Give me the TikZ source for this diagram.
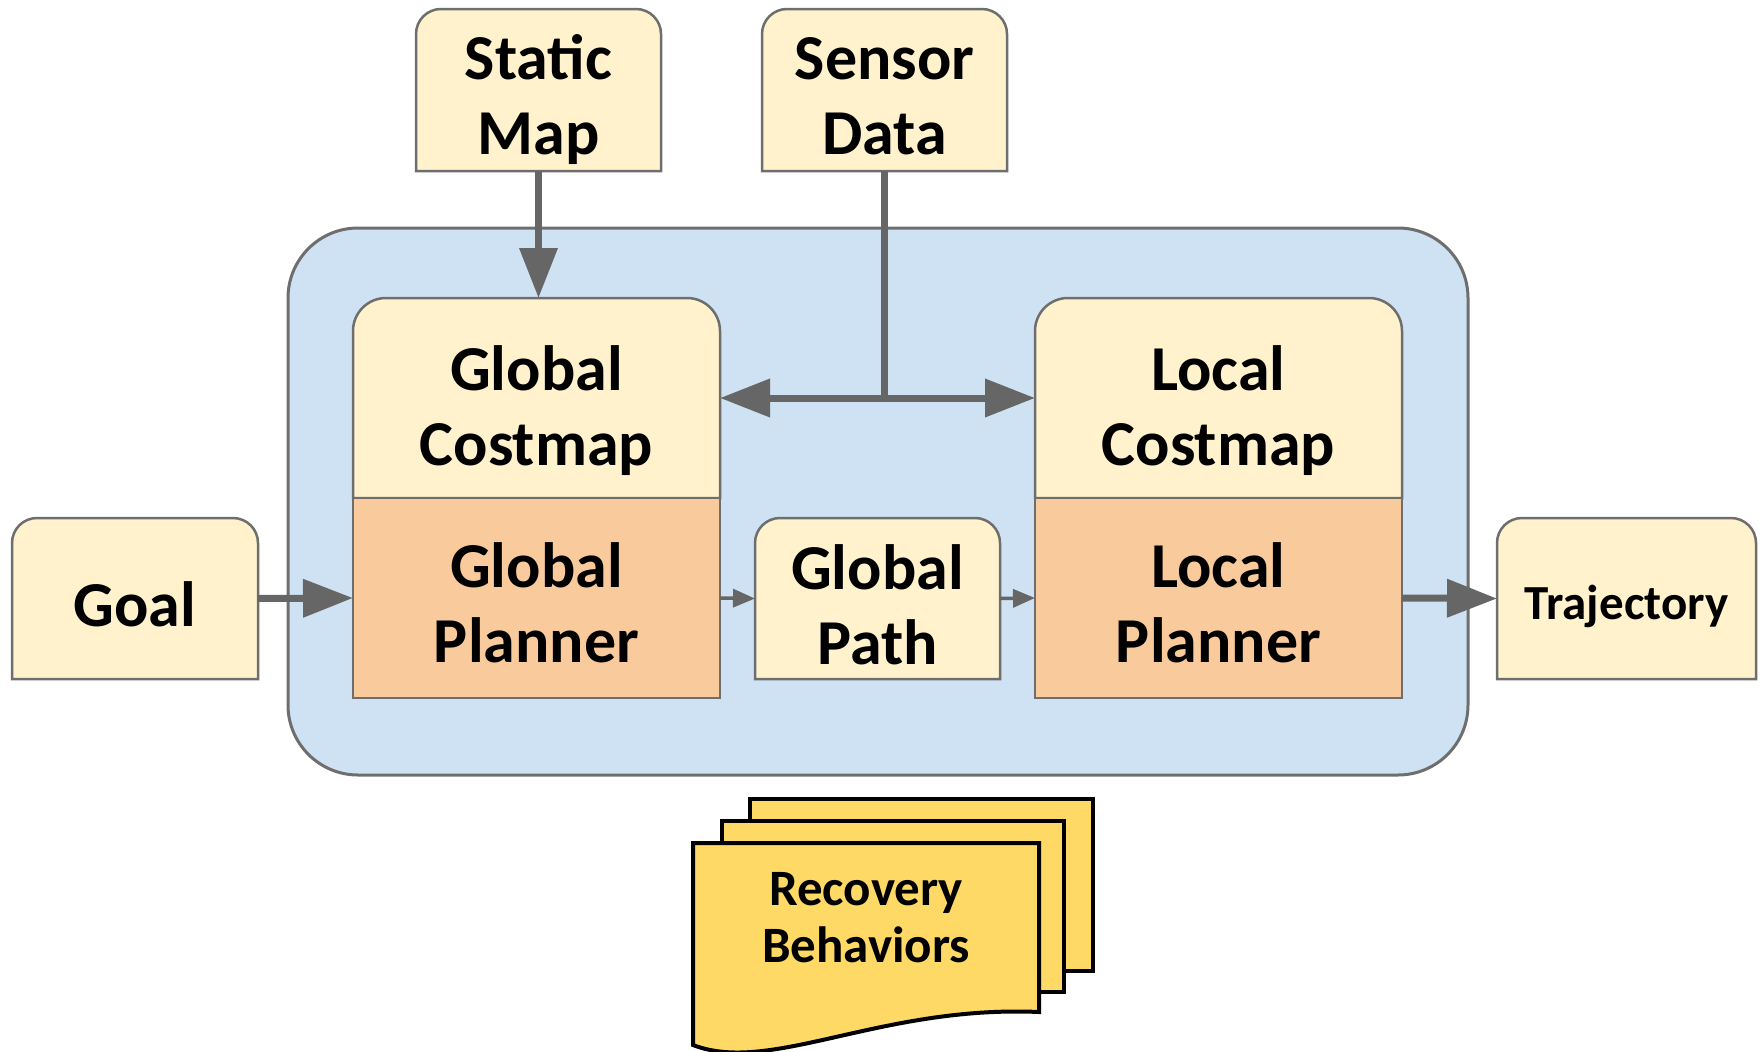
\documentclass[tikz,border=0pt]{standalone}
\usepackage{fontspec}
\setmainfont{Carlito}
\usetikzlibrary{arrows.meta,positioning}

\definecolor{boxyellow}{HTML}{FFF2CC}
\definecolor{planorange}{HTML}{F9CB9C}
\definecolor{panelblue}{HTML}{CFE2F3}
\definecolor{sheetyellow}{HTML}{FFD966}
\definecolor{bordergray}{HTML}{6E6E6E}
\definecolor{arrowgray}{HTML}{666666}

\pgfdeclarelayer{back}
\pgfdeclarelayer{mid}
\pgfsetlayers{back,mid,main}

% box with rounded top corners, built on the anchors of a node
\newcommand{\topround}[3]{%
  \draw[boxline, fill=#2] (#1.south west) -- ([yshift=-#3]#1.north west)
    arc[start angle=180, end angle=90, radius=#3] -- ([xshift=-#3]#1.north east)
    arc[start angle=90, end angle=0, radius=#3] -- (#1.south east) -- cycle;}

\begin{document}
\begin{tikzpicture}[x=1pt, y=-1pt,
  boxsize/.style 2 args={rectangle, minimum width=#1pt, minimum height=#2pt, inner sep=0pt, outer sep=0pt},
  boxline/.style={draw=bordergray, line width=2.5pt},
  bigtext/.style={font=\bfseries\fontsize{64}{75}\selectfont, align=center, inner sep=0pt},
  smalltext/.style={font=\bfseries\fontsize{49}{55}\selectfont, align=center, inner sep=0pt},
  rectext/.style={font=\bfseries\fontsize{51}{57}\selectfont, align=center, inner sep=0pt},
  wire/.style={draw=arrowgray, line width=7pt},
  feed/.style={wire, -{Triangle[length=50pt, width=37pt]}},
  hop/.style={draw=arrowgray, line width=3.5pt, -{Triangle[length=22pt, width=18pt]}},
  sheet/.style={draw=black, line width=4pt, fill=sheetyellow}]
\useasboundingbox (0,0) rectangle (1762,1052);

% --- box geometry ---
\node[boxsize={245}{162}] (static) at (538.5,90) {};
\node[boxsize={245}{162}] (sensor) at (884.5,90) {};
\node[boxsize={367}{200}] (gcost) at (536.5,398) {};
\node[boxsize={367}{200}] (gplan) at (536.5,598) {};
\node[boxsize={367}{200}] (lcost) at (1218.5,398) {};
\node[boxsize={367}{200}] (lplan) at (1218.5,598) {};
\node[boxsize={245}{161}] (gpath) at (877.5,598.5) {};
\node[boxsize={246}{161}] (goal) at (135,598.5) {};
\node[boxsize={259}{161}] (traj) at (1626.5,598.5) {};

% --- texts ---
\node[bigtext] (statictxt) at ([yshift=-10pt]static.center) {Static\\Map};
\node[bigtext] (sensortxt) at ([yshift=-6pt]sensor.center) {Sensor\\Data};
\node[bigtext] (gcosttxt) at ([yshift=-13pt]gcost.center) {Global\\Costmap};
\node[bigtext] (gplantxt) at ([yshift=-5pt]gplan.center) {Global\\Planner};
\node[bigtext] (lcosttxt) at ([yshift=-13pt]lcost.center) {Local\\Costmap};
\node[bigtext] (lplantxt) at ([yshift=-5pt]lplan.center) {Local\\Planner};
\node[bigtext] (gpathtxt) at ([yshift=-6pt]gpath.center) {Global\\Path};
\node[bigtext] (goaltxt) at ([yshift=-6pt]goal.center) {Goal};
\node[smalltext] (trajtxt) at ([yshift=-8pt]traj.center) {Trajectory};

% --- panel and boxes ---
\begin{pgfonlayer}{back}
  \draw[draw=bordergray, line width=3pt, fill=panelblue, rounded corners=70pt] (288,228) rectangle (1468,775);
\end{pgfonlayer}
\begin{pgfonlayer}{mid}
  \foreach \n in {static,sensor,gpath,goal,traj} \topround{\n}{boxyellow}{25pt};
  \foreach \n in {gcost,lcost} \topround{\n}{boxyellow}{33pt};
  \foreach \n in {gplan,lplan} \draw[boxline, fill=planorange] (\n.south west) rectangle (\n.north east);
\end{pgfonlayer}

% --- connectors ---
\draw[feed] (static.south) -- (static.south |- gcost.north);
\coordinate (fork) at (sensor.south |- gcost.east);
\draw[wire] (sensor.south) -- (fork);
\draw[feed] (fork) -- (gcost.east);
\draw[feed] (fork) -- (lcost.west);
\draw[feed] (goal.east) -- (gplan.west);
\draw[hop] (gplan.east) -- (gpath.west);
\draw[hop] (gpath.east) -- (lplan.west);
\draw[feed] (lplan.east) -- (traj.west);

% --- recovery behaviors stack ---
\draw[sheet] (750,799) rectangle (1093,971);
\draw[sheet] (722,821) rectangle (1064,992);
\draw[sheet] (693,843) -- (1039,843) -- (1039,1012)
  .. controls (880,1005) and (770,1075) .. (693,1045) -- cycle;
\node[rectext] (recov) at (866,918) {Recovery\\Behaviors};
\end{tikzpicture}
\end{document}
